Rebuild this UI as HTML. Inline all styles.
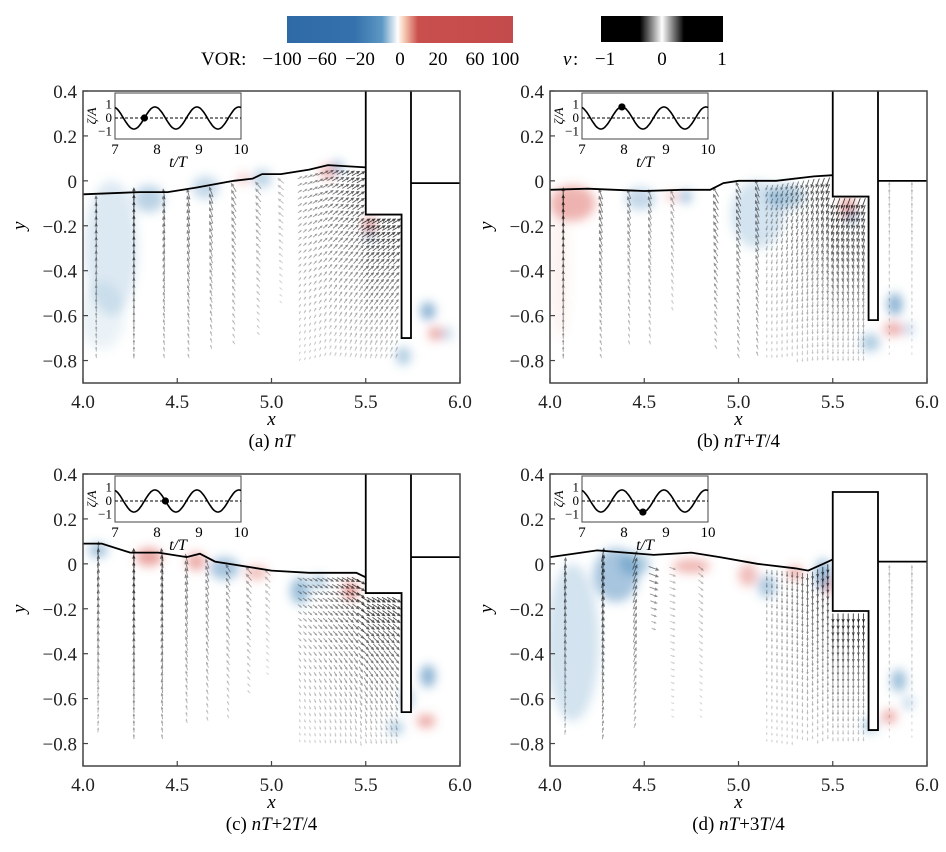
<!DOCTYPE html>
<html><head><meta charset="utf-8">
<style>
html,body{margin:0;padding:0;background:#fff;}
svg, svg text{font-family:"Liberation Serif","DejaVu Serif",serif;}
</style></head>
<body>
<svg id="fig" width="946" height="847" viewBox="0 0 946 847" xmlns="http://www.w3.org/2000/svg" font-family="Liberation Serif, serif">
<defs>
<linearGradient id="vorGrad" x1="0" x2="1" y1="0" y2="0">
<stop offset="0" stop-color="#2f6aa7"/><stop offset="0.3" stop-color="#3571ac"/><stop offset="0.42" stop-color="#5d97c3"/><stop offset="0.49" stop-color="#ffffff"/><stop offset="0.52" stop-color="#f6c7b0"/><stop offset="0.58" stop-color="#c94f4d"/><stop offset="1" stop-color="#c44b4b"/>
</linearGradient>
<linearGradient id="vGrad" x1="0" x2="1" y1="0" y2="0">
<stop offset="0" stop-color="#000"/><stop offset="0.32" stop-color="#000"/><stop offset="0.5" stop-color="#fff"/><stop offset="0.68" stop-color="#000"/><stop offset="1" stop-color="#000"/>
</linearGradient>
<filter id="blur" x="-50%" y="-50%" width="200%" height="200%"><feGaussianBlur stdDeviation="5"/></filter>
</defs>
<g>
<rect x="287" y="16" width="226" height="27" fill="url(#vorGrad)"/>
<text x="201" y="65" font-size="19">VOR:</text>
<text x="282" y="65" font-size="19" text-anchor="middle">−100</text>
<text x="322" y="65" font-size="19" text-anchor="middle">−60</text>
<text x="360" y="65" font-size="19" text-anchor="middle">−20</text>
<text x="400" y="65" font-size="19" text-anchor="middle">0</text>
<text x="438" y="65" font-size="19" text-anchor="middle">20</text>
<text x="475" y="65" font-size="19" text-anchor="middle">60</text>
<text x="505" y="65" font-size="19" text-anchor="middle">100</text>
</g>
<g>
<rect x="601" y="16" width="122" height="26" fill="url(#vGrad)"/>
<text x="563" y="65" font-size="19" font-style="italic">v</text><text x="573" y="65" font-size="19">:</text>
<text x="605" y="65" font-size="19" text-anchor="middle">−1</text>
<text x="662" y="65" font-size="19" text-anchor="middle">0</text>
<text x="722" y="65" font-size="19" text-anchor="middle">1</text>
</g>
</svg>
<script>
const NS="http://www.w3.org/2000/svg";
const fig=document.getElementById('fig');
const xTicks=[4.0,4.5,5.0,5.5,6.0];
const xTickLabels=["4.0","4.5","5.0","5.5","6.0"];
const yTicks=[0.4,0.2,0,-0.2,-0.4,-0.6,-0.8];
const yTickLabels=["0.4","0.2","0","−0.2","−0.4","−0.6","−0.8"];
const insetTicksT=[7,8,9,10];
const insetTicksZ=[1,0,-1];
const insetZLabels=["1","0","−1"];
const panelIds=["a","b","c","d"];
const panelTitles=["nT","nT+T/4","nT+2T/4","nT+3T/4"];
const panelLeft=[83,550,83,550];
const panelTop=[91,91,474,474];
const phaseDot=[7.7,7.95,8.2,8.45];
const surfA=[[4.0,-0.06],[4.3,-0.05],[4.45,-0.05],[4.6,-0.03],[4.8,0.0],[4.9,0.01],[4.95,0.03],[5.05,0.03],[5.2,0.05],[5.3,0.07],[5.5,0.06]];
const surfB=[[4.0,-0.04],[4.2,-0.035],[4.5,-0.045],[4.7,-0.04],[4.85,-0.04],[4.92,-0.01],[5.0,0.0],[5.2,0.0],[5.4,0.02],[5.5,0.025]];
const surfC=[[4.0,0.09],[4.1,0.09],[4.25,0.05],[4.4,0.05],[4.55,0.03],[4.62,0.045],[4.7,0.01],[5.0,-0.03],[5.2,-0.04],[5.45,-0.04],[5.5,-0.06]];
const surfD=[[4.0,0.03],[4.25,0.06],[4.4,0.05],[4.55,0.04],[4.75,0.05],[4.9,0.03],[5.1,0.0],[5.3,-0.02],[5.37,-0.03],[5.45,0.0],[5.5,0.02]];
const surfaces=[surfA,surfB,surfC,surfD];
const stepY=[-0.15,-0.07,-0.13,-0.21];
const wallBottom=[-0.70,-0.62,-0.66,-0.74];
const rightWater=[-0.01,0.0,0.03,0.01];
const boxTop=[0.4,0.4,0.4,0.32];
// vorticity blobs: [x, y, rx, ry, sign, strength]
const vorA=[[4.15,-0.3,0.14,0.3,-1,0.18],[4.1,-0.6,0.12,0.15,-1,0.1],[4.35,-0.08,0.08,0.06,-1,0.35],[4.65,-0.03,0.07,0.05,-1,0.3],[4.95,0.01,0.05,0.04,-1,0.35],[4.85,0.01,0.03,0.02,1,0.4],[5.3,0.04,0.04,0.03,1,0.5],[5.35,0.06,0.03,0.03,-1,0.5],[5.52,-0.2,0.03,0.04,1,0.6],[5.52,-0.24,0.02,0.03,-1,0.5],[5.83,-0.58,0.04,0.04,-1,0.6],[5.87,-0.68,0.04,0.03,1,0.5],[5.7,-0.78,0.04,0.04,-1,0.4],[5.93,-0.68,0.03,0.03,-1,0.3]];
const vorB=[[4.12,-0.1,0.12,0.08,1,0.45],[4.05,-0.4,0.05,0.3,1,0.08],[4.48,-0.08,0.08,0.05,-1,0.3],[4.72,-0.07,0.03,0.03,-1,0.5],[4.65,-0.07,0.03,0.02,1,0.4],[5.1,-0.15,0.14,0.15,-1,0.22],[5.25,-0.07,0.1,0.05,-1,0.4],[5.58,-0.12,0.04,0.05,1,0.5],[5.6,-0.16,0.03,0.03,-1,0.5],[5.83,-0.55,0.04,0.05,-1,0.6],[5.82,-0.66,0.05,0.03,1,0.5],[5.7,-0.72,0.05,0.04,-1,0.4],[5.9,-0.66,0.03,0.03,-1,0.3]];
const vorC=[[4.08,0.06,0.05,0.03,-1,0.5],[4.35,0.03,0.07,0.04,1,0.55],[4.6,0.01,0.05,0.04,1,0.5],[4.75,-0.02,0.08,0.05,-1,0.45],[4.92,-0.04,0.06,0.03,1,0.4],[5.15,-0.12,0.05,0.06,-1,0.5],[5.25,-0.08,0.04,0.03,-1,0.4],[5.42,-0.12,0.04,0.04,1,0.6],[5.83,-0.5,0.04,0.05,-1,0.6],[5.72,-0.6,0.03,0.05,-1,0.4],[5.82,-0.7,0.05,0.03,1,0.5],[5.66,-0.73,0.04,0.03,-1,0.4]];
const vorD=[[4.12,-0.35,0.14,0.35,-1,0.22],[4.35,-0.05,0.12,0.12,-1,0.45],[4.45,0.0,0.08,0.05,-1,0.4],[4.75,-0.01,0.1,0.03,1,0.45],[5.05,-0.05,0.05,0.05,1,0.4],[5.15,-0.1,0.05,0.05,-1,0.4],[5.3,-0.04,0.04,0.03,1,0.5],[5.45,-0.05,0.04,0.07,-1,0.6],[5.48,-0.1,0.02,0.04,1,0.5],[5.85,-0.52,0.04,0.05,-1,0.5],[5.9,-0.62,0.03,0.03,-1,0.3],[5.8,-0.68,0.04,0.03,1,0.5],[5.7,-0.72,0.04,0.03,-1,0.4]];
const vortices=[vorA,vorB,vorC,vorD];
// arrow columns: [x, angleDeg (0=right, 90=up), lengthPx, yTop, yBottom, opacity]
const colsA=[[4.07,92,10,-0.09,-0.8,0.6],[4.27,90,12,-0.06,-0.8,0.8],[4.43,100,10,-0.06,-0.8,0.6],[4.56,105,10,-0.06,-0.8,0.6],[4.68,110,10,-0.05,-0.75,0.55],[4.8,120,9,-0.03,-0.75,0.5],[4.93,130,8,-0.02,-0.7,0.4],[5.05,140,7,0.0,-0.55,0.3]];
const colsB=[[4.07,90,12,-0.06,-0.8,0.8],[4.27,110,10,-0.06,-0.8,0.6],[4.42,110,9,-0.06,-0.75,0.5],[4.53,110,9,-0.06,-0.75,0.5],[4.65,115,8,-0.06,-0.6,0.4],[4.88,120,10,-0.05,-0.75,0.6],[5.0,115,11,-0.03,-0.8,0.6],[5.1,110,11,-0.02,-0.8,0.6],[5.8,90,5,-0.02,-0.8,0.3],[5.92,90,5,-0.02,-0.8,0.3]];
const colsC=[[4.08,85,12,0.07,-0.75,0.6],[4.27,92,12,0.04,-0.78,0.8],[4.42,98,12,0.04,-0.78,0.7],[4.55,105,10,0.02,-0.72,0.55],[4.66,110,9,0.0,-0.72,0.5],[4.77,120,8,-0.02,-0.7,0.45],[4.88,130,8,-0.03,-0.6,0.4],[4.98,135,7,-0.04,-0.5,0.3]];
const colsD=[[4.08,85,12,0.0,-0.78,0.6],[4.28,80,13,0.04,-0.78,0.8],[4.45,70,12,0.03,-0.75,0.6],[4.55,-20,10,-0.02,-0.3,0.6],[4.65,-20,6,-0.02,-0.7,0.3],[4.8,-40,6,-0.02,-0.7,0.3],[5.8,90,5,-0.02,-0.8,0.3],[5.92,90,5,-0.02,-0.8,0.3]];
const columns=[colsA,colsB,colsC,colsD];
// dense region near structure: [x0, x1, angleTopDeg, angleBottomDeg, lengthPx]
const denseRegion=[[5.15,5.68,30,70,9],[5.15,5.68,-110,-90,10],[5.15,5.68,-30,-80,9],[5.15,5.68,-90,-90,8]];

function el(tag,attrs,parent){const e=document.createElementNS(NS,tag);for(const k in attrs)e.setAttribute(k,attrs[k]);(parent||fig).appendChild(e);return e;}

for(let p=0;p<4;p++){
  const L=panelLeft[p],T=panelTop[p],W=377,H=292;
  const sx=x=>L+(x-4.0)/2.0*W;
  const sy=y=>T+(0.4-y)/1.3*H;
  const g=el('g',{});
  
  
  const clipId='clip'+p;
  const cp=el('clipPath',{id:clipId},g);el('rect',{x:L,y:T,width:W,height:H},cp);
  const plot=el('g',{'clip-path':'url(#'+clipId+')'},g);
  const vg=el('g',{filter:'url(#blur)'},plot);
  
  
  for(const v of vortices[p]){
    const e=el('ellipse',{cx:sx(v[0]),cy:sy(v[1]),rx:v[2]/2*W,ry:v[3]/1.3*H,fill:v[4]<0?'#3a7fb5':'#d9574f','fill-opacity':v[5]},vg);
    
    
  }
  const ag=el('g',{stroke:'#000','stroke-width':0.9,'stroke-linecap':'round'},plot);
  
  
  const surfAt=x=>{const s=surfaces[p];for(let i=1;i<s.length;i++){if(x<=s[i][0]){const t=(x-s[i-1][0])/(s[i][0]-s[i-1][0]);return s[i-1][1]+t*(s[i][1]-s[i-1][1]);}}return s[s.length-1][1];};
  function arrow(x,y,ang,len,op){
    const a=ang*Math.PI/180,X=sx(x),Y=sy(y);
    const dx=Math.cos(a)*len/2,dy=-Math.sin(a)*len/2;
    const x1=X-dx,y1=Y-dy,x2=X+dx,y2=Y+dy;
    const hx=Math.cos(a),hy=-Math.sin(a),h=Math.min(2.5,len*0.3);
    el('path',{d:`M${x1.toFixed(1)},${y1.toFixed(1)}L${x2.toFixed(1)},${y2.toFixed(1)}M${(x2-hx*h-hy*h*0.45).toFixed(1)},${(y2-hy*h+hx*h*0.45).toFixed(1)}L${x2.toFixed(1)},${y2.toFixed(1)}L${(x2-hx*h+hy*h*0.45).toFixed(1)},${(y2-hy*h-hx*h*0.45).toFixed(1)}`,fill:'none','stroke-opacity':op.toFixed(2)},ag);
  }
  for(const c of columns[p]){
    for(let y=c[3];y>=c[4];y-=0.03){
      const f=1-(c[3]-y)/(c[3]-c[4]+0.01)*0.7;
      arrow(c[0],y,c[1],c[2]*f,c[5]*(0.3+0.6*f));
    }
  }
  const dr=denseRegion[p];
  for(let x=dr[0];x<=dr[1]+1e-6;x+=0.027){
    const top=(x<5.5?surfAt(x):stepY[p])-0.03;
    for(let y=top;y>=-0.8;y-=0.03){
      const f=(top-y)/(top+0.8);
      const ang=dr[2]+(dr[3]-dr[2])*f;
      const prox=Math.max(0,1-(5.5-x)/0.35);
      const len=dr[4]*(1-0.6*f)*(0.45+0.55*Math.min(1,prox));
      arrow(x,y,ang,len,0.2+0.55*(1-f)*(0.3+0.7*Math.min(1,prox)));
    }
  }
  const s=surfaces[p];
  const sl=el('polyline',{points:s.map(q=>sx(q[0]).toFixed(1)+','+sy(q[1]).toFixed(1)).join(' '),fill:'none',stroke:'#000','stroke-width':1.8},plot);
  
  
  const bt=boxTop[p];
  const st=el('path',{d:`M${sx(5.5)},${sy(bt)}L${sx(5.5)},${sy(stepY[p])}L${sx(5.69)},${sy(stepY[p])}L${sx(5.69)},${sy(wallBottom[p])}L${sx(5.74)},${sy(wallBottom[p])}L${sx(5.74)},${sy(bt)}${bt<0.4?'Z':''}`,fill:'#fff',stroke:'#000','stroke-width':1.8},plot);
  
  
  const rw=el('line',{x1:sx(5.74),x2:sx(6.0),y1:sy(rightWater[p]),y2:sy(rightWater[p]),stroke:'#000','stroke-width':1.8},plot);
  
  
  const fr=el('rect',{x:L,y:T,width:W,height:H,fill:'none',stroke:'#444','stroke-width':1.5},g);
  
  
  for(let i=0;i<xTicks.length;i++){
    const X=sx(xTicks[i]);
    el('line',{x1:X,x2:X,y1:T+H,y2:T+H-5,stroke:'#444','stroke-width':1.2},g);
    const t=el('text',{x:X,y:T+H+25,'font-size':19,'text-anchor':'middle',fill:'#222'},g);t.textContent=xTickLabels[i];
    
    
  }
  for(let i=0;i<yTicks.length;i++){
    const Y=sy(yTicks[i]);
    el('line',{x1:L,x2:L+5,y1:Y,y2:Y,stroke:'#444','stroke-width':1.2},g);
    const t=el('text',{x:L-6,y:Y+7,'font-size':19,'text-anchor':'end',fill:'#222'},g);t.textContent=yTickLabels[i];
    
    
  }
  const xl=el('text',{x:L+W/2,y:T+H+42,'font-size':19,'font-style':'italic','text-anchor':'middle'},g);xl.textContent='x';
  
  
  const yl=el('text',{x:0,y:0,'font-size':19,'font-style':'italic','text-anchor':'middle',transform:`translate(${L-58},${sy(-0.2)}) rotate(-90)`},g);yl.textContent='y';
  
  
  const ti=el('text',{x:L+W/2,y:T+H+64,'font-size':19,'text-anchor':'middle'},g);
  
  
  const parts=panelTitles[p].split(/(\+|\/4)/);
  const t0=el('tspan',{},ti);t0.textContent='('+panelIds[p]+') ';
  for(const pt of parts){if(!pt)continue;const sp=el('tspan',{},ti);if(!(pt==='+'||pt==='/4'||/^\d/.test(pt)))sp.setAttribute('font-style','italic');
    if(/^\d/.test(pt)){sp.textContent=pt[0];const s2=el('tspan',{'font-style':'italic'},ti);s2.textContent=pt.slice(1);} else sp.textContent=pt;}
  const iL=L+32,iT=T+2,iW=126,iH=46;
  const ig=el('g',{},g);
  
  
  el('rect',{x:iL,y:iT,width:iW,height:iH,fill:'#fff',stroke:'#555','stroke-width':1.1},ig);
  const it=t=>iL+(t-7)/3*iW, iz=z=>iT+iH/2+2-z*13.5;
  el('line',{x1:iL,x2:iL+iW,y1:iz(0),y2:iz(0),stroke:'#000','stroke-width':0.9,'stroke-dasharray':'3,2'},ig);
  let d='';for(let k=0;k<=120;k++){const t=7+3*k/120;d+=(k?'L':'M')+it(t).toFixed(1)+','+iz(0.82*Math.sin(2*Math.PI*(t-7.7))).toFixed(1);}
  const cv=el('path',{d,fill:'none',stroke:'#000','stroke-width':1.6},ig);
  
  
  const dot=el('circle',{cx:it(phaseDot[p]),cy:iz(0.82*Math.sin(2*Math.PI*(phaseDot[p]-7.7))),r:3.6,fill:'#000'},ig);
  
  
  for(const t of insetTicksT){const tx=el('text',{x:it(t),y:iT+iH+15,'font-size':15,'text-anchor':'middle'},ig);tx.textContent=t;}
  insetTicksZ.forEach((z,i)=>{const tx=el('text',{x:iL-3,y:iz(z)+4,'font-size':13,'text-anchor':'end'},ig);tx.textContent=insetZLabels[i];});
  const itl=el('text',{x:iL+iW/2,y:iT+iH+28,'font-size':16,'font-style':'italic','text-anchor':'middle'},ig);itl.textContent='t/T';
  const izl=el('text',{x:0,y:0,'font-size':13,'font-style':'italic','text-anchor':'middle',transform:`translate(${iL-19},${iT+iH/2}) rotate(-90)`},ig);izl.textContent='ζ/A';
}
</script>
</body></html>
